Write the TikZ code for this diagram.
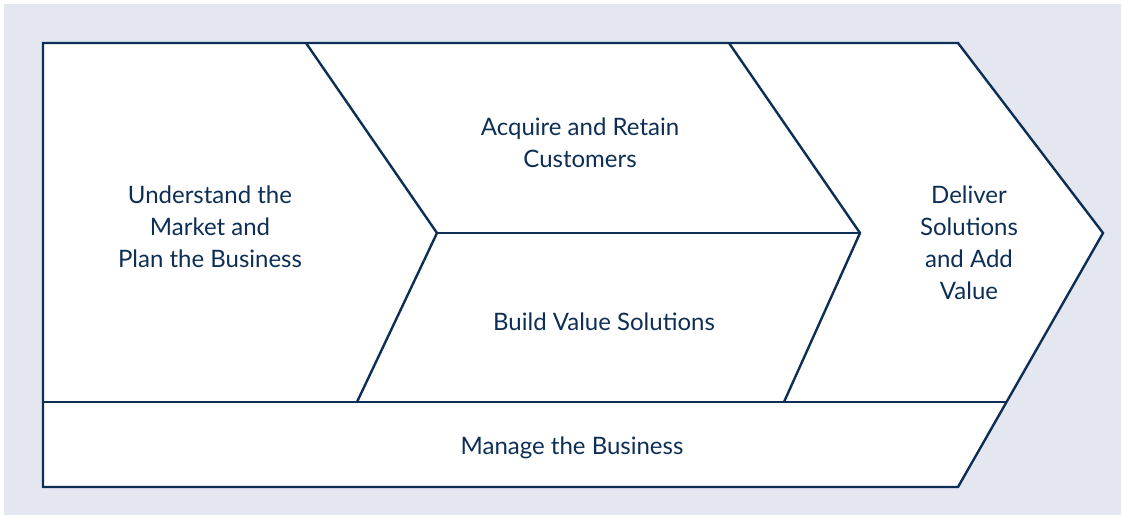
\documentclass[tikz,border=0pt]{standalone}
\usepackage{fontspec}
\setmainfont{Lato}
\usepackage{tikz}
\usetikzlibrary{positioning}
\definecolor{navy}{HTML}{0E2F55}
\definecolor{lav}{HTML}{E4E7F0}
\tikzset{
  edge/.style={draw=navy, line width=2.4pt, line join=miter},
  lbl/.style={text=navy, align=center, font=\fontsize{24}{32}\selectfont},
}

\begin{document}
\begin{tikzpicture}[x=1pt,y=-1pt]
    \useasboundingbox (0,0) rectangle (1123,518);
    \fill[lav] (4,4) rectangle (1121,515);
    % outer arrow
    \coordinate (tl) at (43,43);
    \coordinate (tr) at (958,43);
    \coordinate (tip) at (1103,233);
    \coordinate (br) at (958,487);
    \coordinate (bl) at (43,487);
    \filldraw[edge, fill=white] (tl) -- (tr) -- (tip) -- (br) -- (bl) -- cycle;
    % strip
    \coordinate (sl) at (43,402);
    \coordinate (sr) at (1006,402);
    \draw[edge] (sl) -- (sr);
    % chevrons
    \coordinate (c1t) at (306,43);
    \coordinate (c1m) at (437,233);
    \coordinate (c1b) at (357,402);
    \coordinate (c2t) at (729,43);
    \coordinate (c2m) at (860,233);
    \coordinate (c2b) at (784,402);
    \draw[edge] (c1t) -- (c1m) -- (c1b);
    \draw[edge] (c2t) -- (c2m) -- (c2b);
    \draw[edge] (c1m) -- (c2m);
    \node[lbl] (plan) at (210,227) {Understand the\\Market and\\Plan the Business};
    \node[lbl] (acquire) at (580,143) {Acquire and Retain\\Customers};
    \node[lbl] (build) at (604,322) {Build Value Solutions};
    \node[lbl] (deliver) at (969,243) {Deliver\\Solutions\\and Add\\Value};
    \node[lbl] (manage) at (572,448) {Manage the Business};
  \end{tikzpicture}
\end{document}
